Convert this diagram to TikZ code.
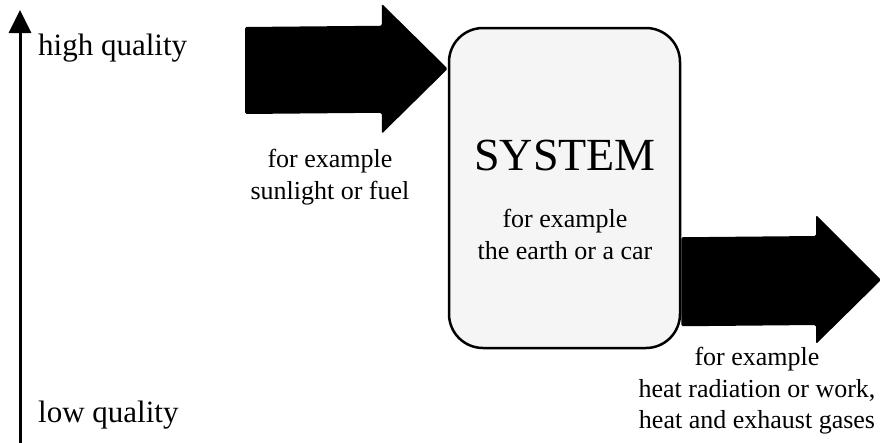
\documentclass[tikz,border=0pt]{standalone}
\usepackage{fontspec}
\setmainfont{Liberation Serif}
\usepackage{tikz}
\usetikzlibrary{positioning, calc, arrows.meta}
\definecolor{cBox}{RGB}{245,245,245}

\begin{document}
\begin{tikzpicture}[x=1pt, y=-1pt, inner sep=0pt,
    sysbox/.style={draw, line width=2.5pt, fill=cBox, rounded corners=34pt, minimum width=231pt, minimum height=320pt},
    bigarrow/.style={fill=black, rounded corners=1.5pt},
    qlabel/.style={font=\fontsize{31}{36}\selectfont, anchor=base west},
    note/.style={font=\fontsize{26}{31.5}\selectfont, align=center, anchor=north}]
    \useasboundingbox (0,0) rectangle (881,442);

    % Quality axis
    \coordinate (axBottom) at (20,446);
    \coordinate (axTop) at (20,10);
    \draw[line width=3pt, -{Triangle[length=23pt, width=22pt]}] (axBottom) -- (axTop);
    \node[qlabel] (hiq) at (38,55) {high quality};
    \node[qlabel] (loq) at (38,422) {low quality};

    % System box
    \node[sysbox] (sys) at (564.5,188) {};
    \node[font=\fontsize{46}{50}\selectfont, anchor=base] (title) at ($(sys.north)+(0.5,144)$) {SYSTEM};
    \node[note] (sysnote) [below=38pt of title] {for example\\the earth or a car};

    % Energy in
    \coordinate (inTail) at (245,70);
    \coordinate (inTip) at ($(sys.north west)+(0,42)$);
    \fill[bigarrow] ($(inTail)+(0,-43)$) -- ($(inTip)+(-66,-43)$) -- ($(inTip)+(-66,-65)$)
        -- (inTip) -- ($(inTip)+(-66,65)$) -- ($(inTip)+(-66,44)$) -- ($(inTail)+(0,44)$) -- cycle;
    \node[note] (innote) at (330,149) {for example\\sunlight or fuel};

    % Energy out
    \coordinate (outTail) at ($(sys.south east)+(0,-68)$);
    \coordinate (outTip) at (881,280);
    \fill[bigarrow] ($(outTail)+(0,-44)$) -- ($(outTip)+(-65,-44)$) -- ($(outTip)+(-65,-65)$)
        -- (outTip) -- ($(outTip)+(-65,64)$) -- ($(outTip)+(-65,45)$) -- ($(outTail)+(0,45)$) -- cycle;
    \node[note] (outnote) at (757,347) {for example\\heat radiation or work,\\heat and exhaust gases};

\end{tikzpicture}
\end{document}
